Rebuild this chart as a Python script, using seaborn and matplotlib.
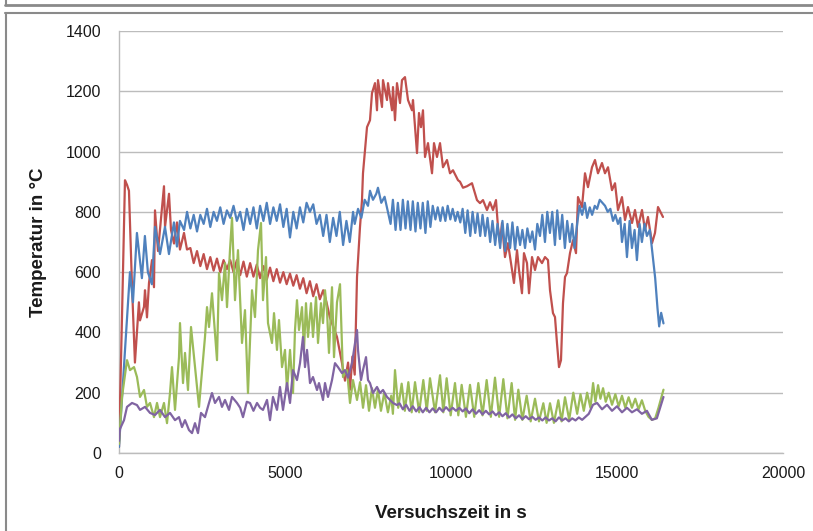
import matplotlib
matplotlib.use("Agg")
import matplotlib.pyplot as plt
from matplotlib.lines import Line2D
import seaborn as sns
import pandas as pd

# ---------------- data (time in s, temperature in °C) ----------------
blue_t = [0, 180, 330, 420, 540, 690, 780, 870, 990, 1085, 1235, 1385, 1505, 1655, 1745, 1835, 1960,
          2050, 2150, 2250, 2350, 2450, 2550, 2650, 2750, 2850, 2950, 3050, 3150, 3250, 3350, 3450, 3550,
          3650, 3750, 3850, 3950, 4050, 4150, 4250, 4350, 4450, 4550, 4650, 4750, 4850, 4950, 5050, 5150,
          5250, 5350, 5450, 5550, 5650, 5750, 5850, 5950, 6050, 6150, 6250, 6350, 6450, 6550, 6650, 6750,
          6850, 6950, 7050, 7100, 7200, 7300, 7400, 7500, 7560, 7650, 7750, 7800, 7900, 8000, 8100, 8180,
          8250, 8330, 8400, 8480, 8550, 8630, 8700, 8780, 8850, 8930, 9000, 9080, 9150, 9230, 9300, 9380,
          9450, 9530, 9600, 9680, 9750, 9830, 9900, 9980, 10050, 10130, 10200, 10280,
          10350, 10430, 10500, 10580, 10650, 10730, 10800, 10880, 10950, 11030, 11100, 11180, 11250, 11330,
          11400, 11480, 11550, 11630, 11700, 11780, 11850, 11930, 12000, 12080, 12150, 12230, 12300, 12380,
          12450, 12530, 12600, 12680, 12750, 12830, 12900, 12980, 13050, 13130, 13200, 13280, 13350, 13430,
          13500, 13580, 13650, 13720, 13800, 13870, 13950, 14030, 14100, 14180, 14250, 14330, 14400, 14480,
          14560, 14640, 14720, 14800, 14880, 14950, 15030, 15100, 15150, 15230, 15300, 15380, 15450, 15530,
          15600, 15680, 15750, 15830, 15900, 15990, 16050, 16150, 16220, 16270, 16330, 16400]
blue_v = [20, 340, 600, 500, 730, 580, 720, 600, 560, 750, 660, 750, 660, 765, 685, 770, 740,
          800, 745, 790, 735, 790, 760, 810, 750, 800, 770, 815, 760, 805, 780, 820, 770,
          800, 740, 810, 760, 815, 745, 820, 770, 830, 760, 815, 770, 825, 750, 810, 715,
          800, 745, 815, 765, 830, 800, 825, 760, 790, 720, 790, 700, 780, 720, 800, 690,
          770, 700, 800, 760, 810, 780, 840, 820, 870, 840, 860, 880, 830, 850, 800, 760,
          840, 740, 830, 740, 840, 745, 835, 740, 835, 735, 830, 745, 830, 730, 835, 750,
          820, 775, 815, 770, 815, 770, 820, 775, 810, 770, 800, 765,
          810, 730, 805, 720, 800, 730, 795, 720, 790, 720, 780, 700, 770, 690,
          760, 680, 770, 670, 760, 680, 765, 675, 750, 690, 740, 680, 745, 700,
          735, 675, 760, 720, 790, 700, 800, 730, 800, 690, 805, 710, 790, 680,
          770, 700, 760, 680, 760, 820, 790, 830, 780, 815, 790, 820, 810, 840,
          830, 820, 800, 810, 770, 790, 760, 780, 700, 760, 650, 770, 680, 740,
          640, 760, 700, 760, 720, 740, 680, 580, 480, 420, 465, 430]

red_t = [0, 90, 180, 240, 300, 390, 480, 600, 633, 753, 783, 843, 904, 994, 1054, 1084, 1175, 1355,
         1386, 1506, 1566, 1657, 1747, 1837, 1958, 2048, 2150, 2250, 2350, 2450, 2550, 2650, 2750, 2850,
         2950, 3050, 3150, 3250, 3350, 3450, 3550, 3650, 3750, 3850, 3950, 4050, 4150, 4250, 4350, 4450,
         4550, 4650, 4750, 4850, 4950, 5050, 5150, 5250, 5350, 5450, 5550, 5650, 5750, 5850, 5950, 6050,
         6150, 6250, 6350, 6450, 6566, 6717, 6807, 6900, 6958, 7030, 7100, 7169, 7199, 7259, 7319, 7349,
         7470, 7560, 7620, 7711, 7771, 7801, 7922, 7952, 8072, 8102, 8223, 8253, 8313, 8373, 8464, 8524,
         8614, 8705, 8825, 8855, 8976, 9036, 9096, 9156, 9217, 9307, 9428, 9488, 9578, 9669, 9759, 9879,
         9970, 10060, 10211, 10271, 10361, 10482, 10632, 10783, 10873, 10964, 11084, 11175, 11265, 11355,
         11415, 11476, 11536, 11626, 11717, 11837, 11897, 11988, 12048, 12138, 12198, 12289, 12349, 12440,
         12530, 12620, 12741, 12831, 12921, 12982, 13072, 13132, 13192, 13253, 13313, 13373, 13434, 13494,
         13584, 13675, 13765, 13825, 13946, 14036, 14126, 14247, 14337, 14427, 14548, 14638, 14729, 14849,
         14940, 15030, 15150, 15241, 15331, 15452, 15542, 15632, 15753, 15843, 15933, 16054, 16144, 16235,
         16325, 16385]
red_v = [20, 450, 905, 890, 870, 560, 300, 500, 440, 485, 540, 450, 565, 640, 550, 805, 670, 885,
         750, 860, 740, 695, 765, 675, 730, 675, 680, 630, 670, 620, 660, 610, 650, 605,
         645, 600, 640, 610, 640, 600, 640, 590, 635, 585, 630, 585, 625, 580, 620, 575,
         615, 570, 610, 565, 600, 560, 595, 555, 590, 545, 580, 530, 570, 520, 560, 510,
         540, 500, 450, 420, 385, 298, 240, 300, 210, 320, 260, 584, 640, 750, 839, 928,
         1081, 1104, 1194, 1227, 1137, 1237, 1148, 1237, 1171, 1227, 1137, 1214, 1104, 1227, 1161, 1237,
         1247, 1171, 1137, 1171, 995, 1128, 1081, 1137, 982, 1028, 928, 1028, 982, 1028, 948, 972,
         928, 938, 905, 900, 880, 885, 895, 839, 829, 839, 806, 832, 806, 839,
         750, 696, 763, 650, 696, 607, 564, 673, 607, 530, 663, 630, 530, 650,
         607, 650, 630, 650, 640, 540, 464, 451, 365, 285, 308, 497, 584, 597,
         663, 706, 663, 849, 816, 928, 882, 948, 972, 928, 962, 928, 948, 872,
         895, 806, 849, 773, 816, 763, 806, 750, 806, 740, 783, 696, 730, 816,
         796, 783]

green_t = [0, 90, 241, 331, 452, 542, 633, 753, 843, 934, 1054, 1145, 1235, 1355, 1446, 1536, 1596,
           1687, 1807, 1837, 1928, 1988, 2078, 2169, 2259, 2319, 2410, 2470, 2590, 2651, 2711, 2801,
           2892, 2952, 3012, 3102, 3193, 3253, 3343, 3404, 3494, 3584, 3705, 3795, 3885, 4006, 4096,
           4187, 4277, 4337, 4428, 4488, 4608, 4669, 4759, 4819, 4910, 5000, 5060, 5151, 5241, 5301,
           5361, 5422, 5512, 5572, 5632, 5693, 5783, 5843, 5934, 5994, 6084, 6145, 6205, 6265, 6325,
           6416, 6476, 6566, 6657, 6747, 6867, 6958, 7048, 7169, 7260, 7350, 7440, 7530, 7620, 7710,
           7800, 7890, 7990, 8100, 8200, 8250, 8313, 8410, 8514, 8610, 8715, 8815, 8916, 9040, 9166,
           9270, 9367, 9520, 9669, 9770, 9869, 9990, 10120, 10220, 10321, 10450, 10572, 10700, 10823,
           10950, 11074, 11200, 11325, 11450, 11576, 11700, 11827, 11930, 12028, 12150, 12279, 12400,
           12530, 12650, 12781, 12880, 12982, 13100, 13233, 13330, 13434, 13560, 13684, 13800, 13900,
           14000, 14100, 14200, 14280, 14350, 14430, 14500, 14580, 14660, 14750, 14850, 14950, 15050,
           15150, 15250, 15350, 15450, 15550, 15650, 15750, 15850, 15950, 16050, 16150, 16250, 16400]
green_v = [30, 186, 308, 275, 285, 252, 186, 209, 153, 166, 119, 166, 119, 166, 99, 199, 285,
           143, 318, 431, 232, 332, 209, 418, 318, 252, 153, 232, 385, 484, 418, 530,
           398, 308, 597, 507, 630, 484, 673, 780, 507, 673, 365, 474, 199, 540, 451,
           673, 763, 507, 650, 431, 365, 464, 342, 441, 285, 342, 209, 342, 199, 408,
           507, 408, 484, 342, 497, 385, 497, 385, 517, 365, 497, 431, 540, 470, 332,
           550, 318, 500, 560, 252, 275, 166, 242, 176, 235, 150, 225, 140, 215, 150,
           210, 140, 200, 135, 190, 130, 275, 150, 230, 140, 235, 135, 235, 135, 242,
           140, 248, 135, 258, 135, 248, 125, 232, 125, 226, 120, 226, 120, 232,
           125, 242, 120, 250, 120, 245, 115, 232, 110, 210, 110, 190, 105,
           180, 105, 165, 100, 165, 100, 175, 105, 185, 110, 200, 130, 195,
           140, 200, 150, 232, 170, 225, 180, 215, 170, 200, 160, 195, 155,
           190, 150, 185, 150, 180, 145, 175, 140, 120, 110, 115, 150, 210]

purple_t = [0, 30, 151, 241, 392, 542, 633, 783, 934, 1084, 1235, 1386, 1536, 1687, 1807, 1898, 1988,
            2108, 2199, 2289, 2379, 2470, 2590, 2711, 2801, 2892, 3012, 3102, 3193, 3313, 3404, 3554,
            3650, 3735, 3850, 3946, 4050, 4157, 4250, 4337, 4458, 4548, 4638, 4759, 4849, 4940, 5060,
            5151, 5241, 5361, 5452, 5542, 5602, 5663, 5753, 5843, 5964, 6024, 6145, 6205, 6295, 6416,
            6506, 6596, 6717, 6807, 6897, 7018, 7078, 7169, 7199, 7289, 7349, 7440, 7500, 7560, 7650,
            7771, 7861, 7952, 8072, 8163, 8253, 8373, 8450, 8550, 8650, 8750, 8850, 8950, 9050, 9150,
            9250, 9350, 9450, 9550, 9650, 9750, 9850, 9950, 10050, 10150, 10250, 10350, 10450, 10550,
            10650, 10750, 10850, 10950, 11050, 11150, 11250, 11350, 11450, 11550, 11650, 11750, 11850,
            11950, 12050, 12150, 12250, 12350, 12450, 12550, 12650, 12750, 12850, 12950, 13050, 13150,
            13250, 13350, 13450, 13550, 13650, 13750, 13850, 13950, 14050, 14150, 14277, 14400, 14550,
            14700, 14850, 15000, 15150, 15300, 15450, 15600, 15750, 15900, 16050, 16200, 16400]
purple_v = [40, 80, 109, 153, 166, 159, 143, 153, 133, 126, 143, 119, 133, 109, 119, 86, 109,
            76, 66, 99, 66, 133, 119, 166, 199, 166, 186, 153, 176, 143, 186, 166,
            150, 119, 170, 166, 140, 166, 150, 143, 176, 109, 186, 143, 219, 143, 232,
            166, 275, 242, 298, 385, 285, 342, 232, 252, 209, 232, 176, 232, 186, 242,
            298, 285, 265, 275, 250, 298, 342, 408, 342, 242, 275, 318, 242, 232, 199,
            219, 199, 209, 186, 176, 166, 159, 165, 145, 160, 140, 155, 138, 152, 135,
            150, 135, 148, 135, 150, 138, 152, 140, 150, 140, 150, 138, 148, 132,
            145, 130, 142, 128, 140, 128, 138, 125, 135, 122, 132, 118, 128,
            115, 125, 112, 122, 112, 120, 110, 118, 108, 118, 108, 115, 105,
            118, 108, 115, 105, 115, 108, 118, 110, 120, 130, 160, 166, 145,
            160, 140, 155, 135, 150, 135, 145, 130, 140, 110, 115, 186]

x_ticks = [0, 5000, 10000, 15000, 20000]
y_ticks = [0, 200, 400, 600, 800, 1000, 1200, 1400]
x_label = "Versuchszeit in s"
y_label = "Temperatur in °C"

series = [("Rot", red_t, red_v, "#C0504D"),
          ("Blau", blue_t, blue_v, "#4F81BD"),
          ("Gruen", green_t, green_v, "#9BBB59"),
          ("Lila", purple_t, purple_v, "#8064A2")]

# ---------------- plot ----------------
sns.set_style("white")
plt.rcParams['font.family'] = ['Liberation Sans', 'DejaVu Sans']

fig = plt.figure(figsize=(8.13, 5.31), dpi=100)
ax = fig.add_axes([119 / 813, 78 / 531, 664 / 813, 422 / 531])

for name, t, v, c in series:
    df = pd.DataFrame({"t": t, "v": v})
    sns.lineplot(data=df, x="t", y="v", ax=ax, color=c, linewidth=1.6,
                 estimator=None, sort=False, zorder=3)

ax.set_xlim(0, 20000)
ax.set_ylim(0, 1400)
ax.set_xticks(x_ticks)
ax.set_yticks(y_ticks)
ax.set_xticklabels([str(x) for x in x_ticks])
ax.set_yticklabels([str(y) for y in y_ticks])
ax.grid(axis="y", color="#bcbcbc", linewidth=1.0, zorder=0)
ax.grid(axis="x", visible=False)
for s in ["top", "right"]:
    ax.spines[s].set_visible(False)
for s in ["left", "bottom"]:
    ax.spines[s].set_color("#bcbcbc")
    ax.spines[s].set_linewidth(1.0)
ax.tick_params(axis="both", which="major", length=5, width=1.0, color="#bcbcbc",
               labelsize=11.5, labelcolor="#1a1a1a", direction="out")
ax.tick_params(axis="y", pad=8)
ax.tick_params(axis="x", pad=4)
ax.set_xlabel(x_label, fontsize=13.5, fontweight="bold", color="#1a1a1a", labelpad=18)
ax.set_ylabel(y_label, fontsize=13.5, fontweight="bold", color="#1a1a1a", labelpad=13)

# figure frames (chart area border and the strip above it)
frame_col = "#8a8a8a"
fig.add_artist(Line2D([5 / 813, 1.0], [1 - 12.5 / 531, 1 - 12.5 / 531], color=frame_col, lw=1.5,
                      transform=fig.transFigure))
fig.add_artist(Line2D([5.5 / 813, 5.5 / 813], [0.0, 1 - 12.5 / 531], color=frame_col, lw=1.5,
                      transform=fig.transFigure))
fig.add_artist(Line2D([5 / 813, 1.0], [1 - 5 / 531, 1 - 5 / 531], color=frame_col, lw=2.0,
                      transform=fig.transFigure))
fig.add_artist(Line2D([5.5 / 813, 5.5 / 813], [1 - 5 / 531, 1.0], color=frame_col, lw=1.5,
                      transform=fig.transFigure))

fig.savefig("out.png", dpi=100)
